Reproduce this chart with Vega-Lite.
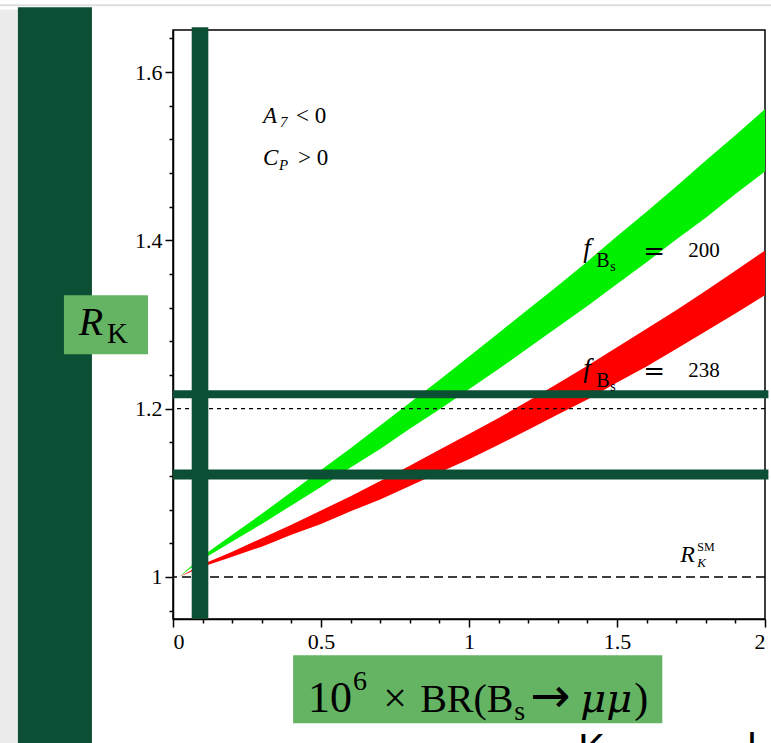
{
  "$schema": "https://vega.github.io/schema/vega-lite/v6.json",
  "autosize": {"type": "none"},
  "width": 592,
  "height": 589,
  "padding": {"left": 173, "top": 30, "right": 6, "bottom": 124},
  "background": "white",
  "data": {"values": [{}]},
  "config": {
    "view": {"stroke": "black", "strokeWidth": 1.5},
    "axis": {
      "domainColor": "black", "domainWidth": 1.5, "tickColor": "black", "tickWidth": 1.5,
      "labelColor": "black", "labelFont": "Liberation Serif", "labelFontSize": 22, "grid": false, "title": null, "labelOverlap": false
    }
  },
  "datasets": {
    "bands": [
      {"x": 0.02, "fbs": "200", "lo": 1.0, "hi": 1.0},
      {"x": 0.1, "fbs": "200", "lo": 1.021, "hi": 1.025},
      {"x": 0.2, "fbs": "200", "lo": 1.042, "hi": 1.050},
      {"x": 0.3, "fbs": "200", "lo": 1.063, "hi": 1.075},
      {"x": 0.4, "fbs": "200", "lo": 1.085, "hi": 1.101},
      {"x": 0.5, "fbs": "200", "lo": 1.107, "hi": 1.127},
      {"x": 0.6, "fbs": "200", "lo": 1.130, "hi": 1.153},
      {"x": 0.7, "fbs": "200", "lo": 1.152, "hi": 1.180},
      {"x": 0.8, "fbs": "200", "lo": 1.176, "hi": 1.207},
      {"x": 0.9, "fbs": "200", "lo": 1.199, "hi": 1.234},
      {"x": 1.0, "fbs": "200", "lo": 1.223, "hi": 1.262},
      {"x": 1.1, "fbs": "200", "lo": 1.247, "hi": 1.290},
      {"x": 1.2, "fbs": "200", "lo": 1.272, "hi": 1.318},
      {"x": 1.3, "fbs": "200", "lo": 1.297, "hi": 1.346},
      {"x": 1.4, "fbs": "200", "lo": 1.322, "hi": 1.375},
      {"x": 1.5, "fbs": "200", "lo": 1.348, "hi": 1.405},
      {"x": 1.6, "fbs": "200", "lo": 1.374, "hi": 1.434},
      {"x": 1.7, "fbs": "200", "lo": 1.401, "hi": 1.464},
      {"x": 1.8, "fbs": "200", "lo": 1.427, "hi": 1.495},
      {"x": 1.9, "fbs": "200", "lo": 1.455, "hi": 1.525},
      {"x": 2.0, "fbs": "200", "lo": 1.482, "hi": 1.556},
      {"x": 0.02, "fbs": "238", "lo": 1.0, "hi": 1.0},
      {"x": 0.1, "fbs": "238", "lo": 1.012, "hi": 1.015},
      {"x": 0.2, "fbs": "238", "lo": 1.024, "hi": 1.030},
      {"x": 0.3, "fbs": "238", "lo": 1.036, "hi": 1.046},
      {"x": 0.4, "fbs": "238", "lo": 1.050, "hi": 1.062},
      {"x": 0.5, "fbs": "238", "lo": 1.063, "hi": 1.079},
      {"x": 0.6, "fbs": "238", "lo": 1.078, "hi": 1.096},
      {"x": 0.7, "fbs": "238", "lo": 1.092, "hi": 1.114},
      {"x": 0.8, "fbs": "238", "lo": 1.108, "hi": 1.132},
      {"x": 0.9, "fbs": "238", "lo": 1.124, "hi": 1.151},
      {"x": 1.0, "fbs": "238", "lo": 1.140, "hi": 1.170},
      {"x": 1.1, "fbs": "238", "lo": 1.157, "hi": 1.189},
      {"x": 1.2, "fbs": "238", "lo": 1.175, "hi": 1.209},
      {"x": 1.3, "fbs": "238", "lo": 1.193, "hi": 1.230},
      {"x": 1.4, "fbs": "238", "lo": 1.211, "hi": 1.251},
      {"x": 1.5, "fbs": "238", "lo": 1.231, "hi": 1.273},
      {"x": 1.6, "fbs": "238", "lo": 1.250, "hi": 1.295},
      {"x": 1.7, "fbs": "238", "lo": 1.271, "hi": 1.317},
      {"x": 1.8, "fbs": "238", "lo": 1.292, "hi": 1.340},
      {"x": 1.9, "fbs": "238", "lo": 1.313, "hi": 1.364},
      {"x": 2.0, "fbs": "238", "lo": 1.335, "hi": 1.388}
    ]
  },
  "layer": [
    {
      "data": {"name": "bands"},
      "mark": {"type": "area", "opacity": 1},
      "encoding": {
        "x": {
          "field": "x", "type": "quantitative",
          "scale": {"domain": [0, 2], "nice": false, "zero": false},
          "axis": {
            "values": [0, 0.1, 0.2, 0.3, 0.4, 0.5, 0.6, 0.7, 0.8, 0.9, 1, 1.1, 1.2, 1.3, 1.4, 1.5, 1.6, 1.7, 1.8, 1.9, 2],
            "tickCount": 200,
            "labelExpr": "indexof([0, 0.5, 1, 1.5, 2], datum.value) >= 0 ? toString(datum.value) : ''",
            "tickSize": {"condition": {"test": "indexof([0, 0.5, 1, 1.5, 2], datum.value) >= 0", "value": 8}, "value": 4},
            "labelPadding": 4, "labelOverlap": false, "title": null
          }
        },
        "y": {
          "field": "hi", "type": "quantitative",
          "scale": {"domain": [0.95, 1.65], "nice": false, "zero": false},
          "axis": {
            "values": [0.96, 1, 1.04, 1.08, 1.12, 1.16, 1.2, 1.24, 1.28, 1.32, 1.36, 1.4, 1.44, 1.48, 1.52, 1.56, 1.6, 1.64],
            "tickCount": 200,
            "labelExpr": "indexof([1, 1.2, 1.4, 1.6], datum.value) >= 0 ? toString(datum.value) : ''",
            "tickSize": {"condition": {"test": "indexof([1, 1.2, 1.4, 1.6], datum.value) >= 0", "value": 8}, "value": 4},
            "labelPadding": 3, "labelOverlap": false, "title": null
          }
        },
        "y2": {"field": "lo"},
        "color": {"field": "fbs", "type": "nominal", "scale": {"domain": ["200", "238"], "range": ["#00f000", "#ff0000"]}, "legend": null}
      }
    },
    {"mark": {"type": "rule", "color": "black", "strokeWidth": 1.6, "strokeDash": [9, 5]}, "encoding": {"y": {"datum": 1.0}}},
    {"mark": {"type": "rule", "color": "black", "strokeWidth": 1.4, "strokeDash": [4, 4]}, "encoding": {"y": {"datum": 1.2}}},
    {"mark": {"type": "rect", "color": "#0d4f35"}, "encoding": {"x": {"datum": 0.0632}, "x2": {"datum": 0.1193}, "y": {"datum": 0.95}, "y2": {"datum": 1.6532}}},
    {"mark": {"type": "rect", "color": "#0d4f35"}, "encoding": {"x": {"datum": 0}, "x2": {"datum": 2.0115}, "y": {"datum": 1.2124}, "y2": {"datum": 1.2219}}},
    {"mark": {"type": "rect", "color": "#0d4f35"}, "encoding": {"x": {"datum": 0}, "x2": {"datum": 2.0115}, "y": {"datum": 1.1158}, "y2": {"datum": 1.1277}}},
    {"mark": {"type": "rule", "color": "#dedede", "strokeWidth": 2}, "encoding": {"x": {"datum": -0.585}, "x2": {"datum": 2.022}, "y": {"datum": 1.6793}}},
    {"mark": {"type": "rect", "color": "#ececec"}, "encoding": {"x": {"datum": -0.585}, "x2": {"datum": -0.524}, "y": {"datum": 0.79}, "y2": {"datum": 1.6745}}},
    {"mark": {"type": "rect", "color": "#0d4f35"}, "encoding": {"x": {"datum": -0.524}, "x2": {"datum": -0.2738}, "y": {"datum": 0.79}, "y2": {"datum": 1.6769}}},
    {"mark": {"type": "rect", "color": "#64b464"}, "encoding": {"x": {"datum": -0.3685}, "x2": {"datum": -0.0845}, "y": {"datum": 1.2647}, "y2": {"datum": 1.3348}}},
    {"mark": {"type": "rect", "color": "#64b464"}, "encoding": {"x": {"datum": 0.4057}, "x2": {"datum": 1.6531}, "y": {"datum": 0.8262}, "y2": {"datum": 0.9070}}},
    {"mark": {"type": "text", "text": "R", "font": "Liberation Serif", "fontStyle": "italic", "fontSize": 40, "align": "left", "baseline": "alphabetic", "color": "black"}, "encoding": {"x": {"datum": -0.318}, "y": {"datum": 1.2872}}},
    {"mark": {"type": "text", "text": "K", "font": "Liberation Serif", "fontSize": 29, "align": "left", "baseline": "alphabetic", "color": "black"}, "encoding": {"x": {"datum": -0.2231}, "y": {"datum": 1.2777}}},
    {"mark": {"type": "text", "text": "10", "font": "Liberation Serif", "fontSize": 44, "align": "left", "baseline": "alphabetic", "color": "black"}, "encoding": {"x": {"datum": 0.4564}, "y": {"datum": 0.8393}}},
    {"mark": {"type": "text", "text": "6", "font": "Liberation Serif", "fontSize": 28, "align": "left", "baseline": "alphabetic", "color": "black"}, "encoding": {"x": {"datum": 0.6085}, "y": {"datum": 0.8656}}},
    {"mark": {"type": "text", "text": "×", "font": "Liberation Serif", "fontSize": 42, "align": "left", "baseline": "alphabetic", "color": "black"}, "encoding": {"x": {"datum": 0.7099}, "y": {"datum": 0.8393}}},
    {"mark": {"type": "text", "text": "BR(B", "font": "Liberation Serif", "fontSize": 40, "align": "left", "baseline": "alphabetic", "color": "black"}, "encoding": {"x": {"datum": 0.835}, "y": {"datum": 0.8393}}},
    {"mark": {"type": "text", "text": "s", "font": "Liberation Serif", "fontSize": 28, "align": "left", "baseline": "alphabetic", "color": "black"}, "encoding": {"x": {"datum": 1.1528}, "y": {"datum": 0.8298}}},
    {"mark": {"type": "text", "text": "→", "font": "DejaVu Sans", "fontSize": 48, "align": "left", "baseline": "alphabetic", "color": "black"}, "encoding": {"x": {"datum": 1.2069}, "y": {"datum": 0.8393}}},
    {"mark": {"type": "text", "text": "μμ", "font": "DejaVu Serif", "fontStyle": "italic", "fontSize": 40, "align": "left", "baseline": "alphabetic", "color": "black"}, "encoding": {"x": {"datum": 1.3759}, "y": {"datum": 0.8393}}},
    {"mark": {"type": "text", "text": ")", "font": "Liberation Serif", "fontSize": 42, "align": "left", "baseline": "alphabetic", "color": "black"}, "encoding": {"x": {"datum": 1.5585}, "y": {"datum": 0.8393}}},
    {"mark": {"type": "text", "text": "A", "font": "Liberation Serif", "fontStyle": "italic", "fontSize": 23, "align": "left", "baseline": "alphabetic", "color": "black"}, "encoding": {"x": {"datum": 0.304}, "y": {"datum": 1.539}}},
    {"mark": {"type": "text", "text": "7", "font": "Liberation Serif", "fontStyle": "italic", "fontSize": 15, "align": "left", "baseline": "alphabetic", "color": "black"}, "encoding": {"x": {"datum": 0.3617}, "y": {"datum": 1.5343}}},
    {"mark": {"type": "text", "text": "< 0", "font": "Liberation Serif", "fontSize": 23, "align": "left", "baseline": "alphabetic", "color": "black"}, "encoding": {"x": {"datum": 0.4158}, "y": {"datum": 1.539}}},
    {"mark": {"type": "text", "text": "C", "font": "Liberation Serif", "fontStyle": "italic", "fontSize": 23, "align": "left", "baseline": "alphabetic", "color": "black"}, "encoding": {"x": {"datum": 0.304}, "y": {"datum": 1.49}}},
    {"mark": {"type": "text", "text": "P", "font": "Liberation Serif", "fontStyle": "italic", "fontSize": 15, "align": "left", "baseline": "alphabetic", "color": "black"}, "encoding": {"x": {"datum": 0.3584}, "y": {"datum": 1.4833}}},
    {"mark": {"type": "text", "text": "> 0", "font": "Liberation Serif", "fontSize": 23, "align": "left", "baseline": "alphabetic", "color": "black"}, "encoding": {"x": {"datum": 0.4226}, "y": {"datum": 1.49}}},
    {"mark": {"type": "text", "text": "f", "font": "Liberation Serif", "fontStyle": "italic", "fontSize": 27, "align": "left", "baseline": "alphabetic", "color": "black"}, "encoding": {"x": {"datum": 1.386}, "y": {"datum": 1.38}}},
    {"mark": {"type": "text", "text": "B", "font": "Liberation Serif", "fontSize": 20, "align": "left", "baseline": "alphabetic", "color": "black"}, "encoding": {"x": {"datum": 1.43}, "y": {"datum": 1.368}}},
    {"mark": {"type": "text", "text": "s", "font": "Liberation Serif", "fontSize": 14, "align": "left", "baseline": "alphabetic", "color": "black"}, "encoding": {"x": {"datum": 1.477}, "y": {"datum": 1.364}}},
    {"mark": {"type": "text", "text": "=", "font": "DejaVu Serif", "fontSize": 26, "align": "left", "baseline": "alphabetic", "color": "black"}, "encoding": {"x": {"datum": 1.589}, "y": {"datum": 1.3763}}},
    {"mark": {"type": "text", "text": "200", "font": "Liberation Serif", "fontSize": 21, "align": "left", "baseline": "alphabetic", "color": "black"}, "encoding": {"x": {"datum": 1.741}, "y": {"datum": 1.38}}},
    {"mark": {"type": "text", "text": "f", "font": "Liberation Serif", "fontStyle": "italic", "fontSize": 27, "align": "left", "baseline": "alphabetic", "color": "black"}, "encoding": {"x": {"datum": 1.386}, "y": {"datum": 1.2374}}},
    {"mark": {"type": "text", "text": "B", "font": "Liberation Serif", "fontSize": 20, "align": "left", "baseline": "alphabetic", "color": "black"}, "encoding": {"x": {"datum": 1.43}, "y": {"datum": 1.2254}}},
    {"mark": {"type": "text", "text": "s", "font": "Liberation Serif", "fontSize": 14, "align": "left", "baseline": "alphabetic", "color": "black"}, "encoding": {"x": {"datum": 1.477}, "y": {"datum": 1.2214}}},
    {"mark": {"type": "text", "text": "=", "font": "DejaVu Serif", "fontSize": 26, "align": "left", "baseline": "alphabetic", "color": "black"}, "encoding": {"x": {"datum": 1.589}, "y": {"datum": 1.2337}}},
    {"mark": {"type": "text", "text": "238", "font": "Liberation Serif", "fontSize": 21, "align": "left", "baseline": "alphabetic", "color": "black"}, "encoding": {"x": {"datum": 1.741}, "y": {"datum": 1.2374}}},
    {"mark": {"type": "text", "text": "R", "font": "Liberation Serif", "fontStyle": "italic", "fontSize": 24, "align": "left", "baseline": "alphabetic", "color": "black"}, "encoding": {"x": {"datum": 1.714}, "y": {"datum": 1.0175}}},
    {"mark": {"type": "text", "text": "SM", "font": "Liberation Serif", "fontSize": 12, "align": "left", "baseline": "alphabetic", "color": "black"}, "encoding": {"x": {"datum": 1.771}, "y": {"datum": 1.0306}}},
    {"mark": {"type": "text", "text": "K", "font": "Liberation Serif", "fontStyle": "italic", "fontSize": 13, "align": "left", "baseline": "alphabetic", "color": "black"}, "encoding": {"x": {"datum": 1.771}, "y": {"datum": 1.0116}}},
    {"mark": {"type": "text", "text": "K", "font": "Liberation Sans", "fontSize": 40, "align": "left", "baseline": "alphabetic", "color": "black"}, "encoding": {"x": {"datum": 1.3692}, "y": {"datum": 0.78}}},
    {"mark": {"type": "text", "text": "l", "font": "Liberation Sans", "fontSize": 40, "align": "left", "baseline": "alphabetic", "color": "black"}, "encoding": {"x": {"datum": 1.9405}, "y": {"datum": 0.78}}}
  ]
}
